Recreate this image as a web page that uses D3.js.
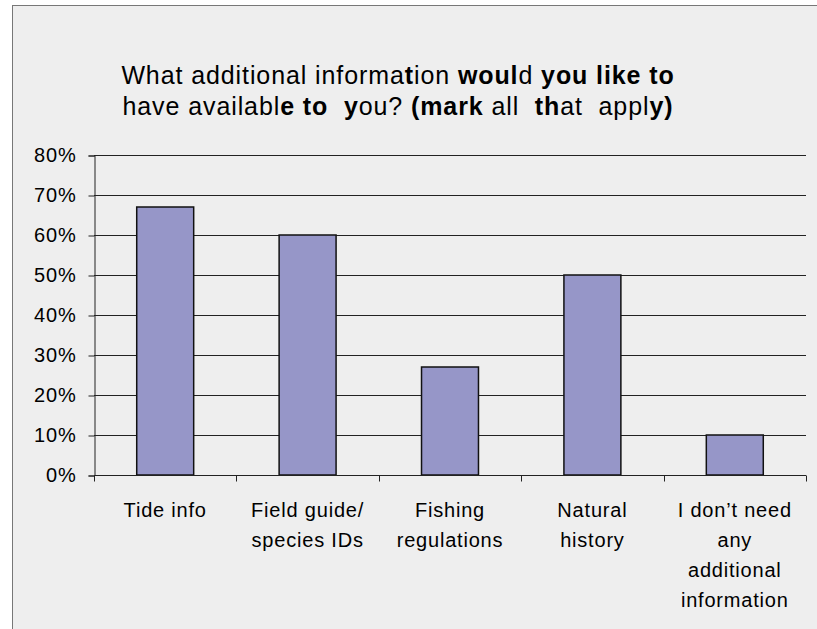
<!DOCTYPE html>
<html>
<head>
<meta charset="utf-8">
<script src="https://cdn.jsdelivr.net/npm/d3@7"></script>
<style>
  body { margin: 0; background: #fff; }
  text { font-family: "Liberation Sans", Arial, sans-serif; fill: #000; }
</style>
</head>
<body>
<svg id="chart" width="817" height="629"></svg>
<script>
var categories = [["Tide info"], ["Field guide/", "species  IDs"], ["Fishing", "regulations"], ["Natural", "history"], ["I don\u2019t need", "any", "additional", "information"]];
var values = [0.67, 0.60, 0.27, 0.50, 0.10];
var yTicks = [0, 0.1, 0.2, 0.3, 0.4, 0.5, 0.6, 0.7, 0.8];
// title pieces: [text, bold]
var titleLine1 = [["What additional informa", false], ["t", true], ["ion ", false], ["woul", true], ["d ", false], ["you ", true], ["like to", true]];
var titleLine2 = [["have availabl", false], ["e to  y", true], ["ou? ", false], ["(mark", true], [" all  ", false], ["th", true], ["at  appl", false], ["y)", true]];

(function drawChart() {
    var svg = d3.select("#chart");

    // frame, runs past the right and bottom of the window
    svg.append("rect")
       .attr("x", 12.5).attr("y", 5.5)
       .attr("width", 900).attr("height", 700)
       .attr("fill", "#eeeeee")
       .attr("stroke", "#777").attr("stroke-width", 1);

    var plotLeft = 94, plotRight = 806, plotTop = 155, plotBottom = 475;

    var x = d3.scaleBand()
              .domain(d3.range(values.length))
              .range([plotLeft, plotRight]);

    var y = d3.scaleLinear().domain([0, 0.8]).range([plotBottom, plotTop]);

    // gridlines
    svg.append("g")
       .selectAll("line")
       .data(yTicks.slice(1))
       .enter().append("line")
       .attr("x1", plotLeft).attr("x2", plotRight)
       .attr("y1", function(d) { return Math.round(y(d)) + 0.5; })
       .attr("y2", function(d) { return Math.round(y(d)) + 0.5; })
       .attr("stroke", "#222").attr("stroke-width", 1);

    // y axis
    var yAxis = svg.append("g")
       .attr("transform", "translate(" + (plotLeft + 0.5) + ",0.5)")
       .call(d3.axisLeft(y).tickValues(yTicks).tickSize(6).tickPadding(12)
               .tickFormat(d3.format(".0%")));
    yAxis.select(".domain").attr("stroke", "#222");
    yAxis.selectAll(".tick line").attr("stroke", "#222");
    yAxis.selectAll("text")
         .style("font-size", "20px")
         .style("letter-spacing", "0.8px")
         .attr("font-family", null)
         .attr("fill", "#000");

    // bars
    svg.append("g")
       .selectAll("rect")
       .data(values)
       .enter().append("rect")
       .attr("x", function(d, i) { return x(i) + x.bandwidth() * 0.3; })
       .attr("width", x.bandwidth() * 0.4)
       .attr("y", function(d) { return y(d); })
       .attr("height", function(d) { return plotBottom - y(d); })
       .attr("fill", "#9696c8")
       .attr("stroke", "#111").attr("stroke-width", 1.5);

    // x axis, ticks at the band edges
    var xAxis = svg.append("g").attr("transform", "translate(0," + (plotBottom + 0.5) + ")");
    xAxis.append("line")
         .attr("x1", plotLeft).attr("x2", plotRight)
         .attr("stroke", "#222");
    xAxis.selectAll(".edge")
         .data(d3.range(values.length + 1))
         .enter().append("line")
         .attr("class", "edge")
         .attr("x1", function(i) { return Math.round(plotLeft + i * x.bandwidth()) + 0.5; })
         .attr("x2", function(i) { return Math.round(plotLeft + i * x.bandwidth()) + 0.5; })
         .attr("y1", 0).attr("y2", 6)
         .attr("stroke", "#222");

    var labels = svg.append("g")
       .selectAll("text")
       .data(categories)
       .enter().append("text")
       .attr("text-anchor", "middle")
       .style("font-size", "20px")
       .style("letter-spacing", "0.8px")
       .attr("transform", function(d, i) { return "translate(" + (x(i) + x.bandwidth() / 2) + ",517)"; });
    labels.selectAll("tspan")
       .data(function(d) { return d; })
       .enter().append("tspan")
       .attr("x", 0)
       .attr("y", function(d, j) { return j * 30; })
       .text(function(d) { return d; });

    // title
    var title = svg.append("g")
       .selectAll("text")
       .data([titleLine1, titleLine2])
       .enter().append("text")
       .attr("x", 398)
       .attr("y", function(d, i) { return 84 + i * 31; })
       .attr("text-anchor", "middle")
       .style("font-size", "25px")
       .style("letter-spacing", "0.9px")
       .style("white-space", "pre");
    title.selectAll("tspan")
       .data(function(d) { return d; })
       .enter().append("tspan")
       .attr("font-weight", function(d) { return d[1] ? "bold" : "normal"; })
       .text(function(d) { return d[0]; });
}());
</script>
</body>
</html>
